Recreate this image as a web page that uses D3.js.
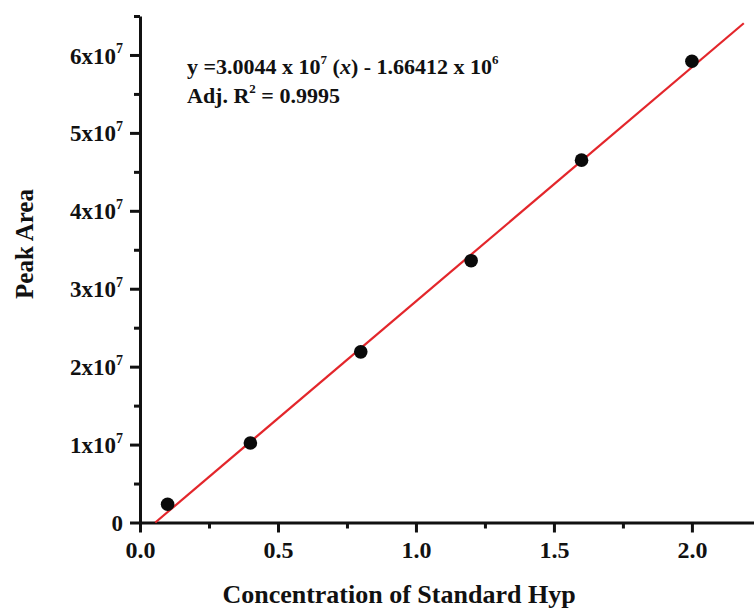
<!DOCTYPE html>
<html>
<head>
<meta charset="utf-8">
<script src="https://cdn.jsdelivr.net/npm/d3@7"></script>
<style>
  body { margin: 0; background: #fff; }
  svg { display: block; }
  text { font-family: "Liberation Serif", "Times New Roman", serif; font-weight: bold; fill: #111; }
</style>
</head>
<body>
<svg id="chart" width="754" height="609"></svg>
<script>
// measured standards
const concentration = [0.1, 0.4, 0.8, 1.2, 1.6, 2.0];
const peakArea = [2.35e6, 1.02e7, 2.19e7, 3.36e7, 4.65e7, 5.92e7];

// linear fit from the figure
const slope = 3.0044e7;
const intercept = -1.66412e6;
const fitRange = [0.0554, 2.188];

const xTicks = [0, 0.5, 1.0, 1.5, 2.0];
const xMinor = [0.25, 0.75, 1.25, 1.75];
const yTicks = [0, 1e7, 2e7, 3e7, 4e7, 5e7, 6e7];
const yMinor = [0.5e7, 1.5e7, 2.5e7, 3.5e7, 4.5e7, 5.5e7, 6.5e7];

const svg = d3.select('#chart');
const x = d3.scaleLinear().domain([0, 2.225]).range([140, 754]);
const y = d3.scaleLinear().domain([0, 6.5e7]).range([522.5, 16]);

// minor ticks first so the major ones draw over them
svg.append('g')
    .attr('transform', `translate(0,${y(0)})`)
    .call(d3.axisBottom(x).tickValues(xMinor).tickSize(6).tickFormat(''))
    .call(g => g.select('.domain').remove())
    .selectAll('line').attr('stroke', '#111').attr('stroke-width', 3);

svg.append('g')
    .attr('transform', `translate(${x(0)},0)`)
    .call(d3.axisLeft(y).tickValues(yMinor).tickSize(6).tickFormat(''))
    .call(g => g.select('.domain').remove())
    .selectAll('line').attr('stroke', '#111').attr('stroke-width', 3);

const xAxis = svg.append('g')
    .attr('transform', `translate(0,${y(0)})`)
    .call(d3.axisBottom(x).tickValues(xTicks).tickSize(10).tickSizeOuter(0).tickPadding(8)
        .tickFormat(d3.format('.1f')));
xAxis.select('.domain').attr('stroke', '#111').attr('stroke-width', 3);
xAxis.selectAll('line').attr('stroke', '#111').attr('stroke-width', 3);
xAxis.selectAll('text').attr('font-size', 24).attr('fill', '#111');

const yAxis = svg.append('g')
    .attr('transform', `translate(${x(0)},0)`)
    .call(d3.axisLeft(y).tickValues(yTicks).tickSize(10).tickSizeOuter(0).tickPadding(6)
        .tickFormat(''));
yAxis.select('.domain').attr('stroke', '#111').attr('stroke-width', 3);
yAxis.selectAll('line').attr('stroke', '#111').attr('stroke-width', 3);

// y tick labels as Nx10^7
yAxis.selectAll('.tick').each(function(d) {
    const t = d3.select(this).select('text')
        .attr('font-size', 23).attr('fill', '#111').attr('dy', '0.35em').attr('x', -17);
    if (d === 0) {
        t.text('0');
    } else {
        t.text(null);
        t.append('tspan').text(`${d / 1e7}x10`);
        t.append('tspan').attr('font-size', 14).attr('dy', '-0.75em').text('7');
    }
});

// fit line
svg.append('line')
    .attr('x1', x(fitRange[0])).attr('y1', y(slope * fitRange[0] + intercept))
    .attr('x2', x(fitRange[1])).attr('y2', y(slope * fitRange[1] + intercept))
    .attr('stroke', '#e3262b').attr('stroke-width', 2.2);

// points
svg.selectAll('circle.pt')
    .data(concentration)
    .join('circle')
        .attr('class', 'pt')
        .attr('cx', d => x(d))
        .attr('cy', (d, i) => y(peakArea[i]))
        .attr('r', 6.8)
        .attr('fill', '#0a0a0a');

// equation annotation
const eq = svg.append('text').attr('x', 187).attr('y', 74).attr('font-size', 22);
eq.append('tspan').text('y =3.0044 x 10');
eq.append('tspan').attr('font-size', 13).attr('dy', -10).text('7');
eq.append('tspan').attr('dy', 10).text(' (');
eq.append('tspan').attr('font-style', 'italic').text('x');
eq.append('tspan').text(') - 1.66412 x 10');
eq.append('tspan').attr('font-size', 13).attr('dy', -10).text('6');

const r2 = svg.append('text').attr('x', 187).attr('y', 103).attr('font-size', 22);
r2.append('tspan').text('Adj. R');
r2.append('tspan').attr('font-size', 13).attr('dy', -10).text('2');
r2.append('tspan').attr('dy', 10).text(' = 0.9995');

// axis titles
svg.append('text')
    .attr('x', 399).attr('y', 603)
    .attr('text-anchor', 'middle')
    .attr('font-size', 26)
    .text('Concentration of Standard Hyp');

svg.append('text')
    .attr('transform', 'translate(33,244) rotate(-90)')
    .attr('text-anchor', 'middle')
    .attr('font-size', 25)
    .text('Peak Area');
</script>
</body>
</html>
